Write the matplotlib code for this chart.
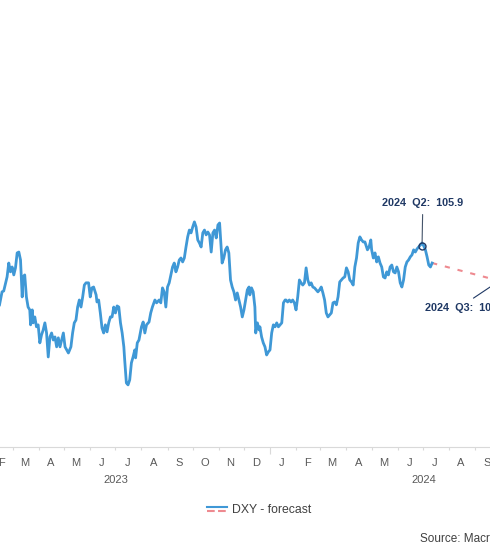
import matplotlib
matplotlib.use("Agg")
import matplotlib.pyplot as plt
import matplotlib.dates as mdates
from matplotlib.legend_handler import HandlerBase
from matplotlib.lines import Line2D
import pandas as pd

plt.rcParams['font.family'] = ['Liberation Sans', 'DejaVu Sans']

# ---------------- data ----------------
dxy_dates = [
    '2023-02-13', '2023-02-16', '2023-02-18', '2023-02-22', '2023-02-24', '2023-02-26', '2023-02-28',
    '2023-03-02', '2023-03-04', '2023-03-06', '2023-03-08', '2023-03-10', '2023-03-12', '2023-03-13',
    '2023-03-15', '2023-03-17', '2023-03-19', '2023-03-21', '2023-03-22', '2023-03-24', '2023-03-25',
    '2023-03-27', '2023-03-29', '2023-03-31', '2023-04-02', '2023-04-04', '2023-04-06', '2023-04-08',
    '2023-04-10', '2023-04-12', '2023-04-14', '2023-04-16', '2023-04-18', '2023-04-20', '2023-04-22',
    '2023-04-24', '2023-04-26', '2023-04-28', '2023-04-30', '2023-05-02', '2023-05-04', '2023-05-06',
    '2023-05-09', '2023-05-11', '2023-05-13', '2023-05-15', '2023-05-17', '2023-05-19', '2023-05-21',
    '2023-05-23', '2023-05-25', '2023-05-27', '2023-05-30', '2023-06-01', '2023-06-03', '2023-06-05',
    '2023-06-08', '2023-06-09', '2023-06-11', '2023-06-13', '2023-06-15', '2023-06-17', '2023-06-19',
    '2023-06-21', '2023-06-23', '2023-06-25', '2023-06-27', '2023-06-29', '2023-07-01', '2023-07-03',
    '2023-07-05', '2023-07-07', '2023-07-09', '2023-07-11', '2023-07-12', '2023-07-14', '2023-07-16',
    '2023-07-18', '2023-07-20', '2023-07-22', '2023-07-24', '2023-07-25', '2023-07-27', '2023-07-29',
    '2023-08-01', '2023-08-03', '2023-08-05', '2023-08-07', '2023-08-10', '2023-08-12', '2023-08-14',
    '2023-08-17', '2023-08-19', '2023-08-22', '2023-08-24', '2023-08-26', '2023-08-28', '2023-08-30',
    '2023-09-01', '2023-09-03', '2023-09-05', '2023-09-07', '2023-09-09', '2023-09-11', '2023-09-13',
    '2023-09-15', '2023-09-17', '2023-09-19', '2023-09-21', '2023-09-23', '2023-09-25', '2023-09-27',
    '2023-09-29', '2023-10-01', '2023-10-03', '2023-10-05', '2023-10-07', '2023-10-09', '2023-10-11',
    '2023-10-13', '2023-10-15', '2023-10-17', '2023-10-19', '2023-10-21', '2023-10-23', '2023-10-25',
    '2023-10-27', '2023-10-29', '2023-10-31', '2023-11-02', '2023-11-03', '2023-11-05', '2023-11-07',
    '2023-11-09', '2023-11-11', '2023-11-13', '2023-11-15', '2023-11-17', '2023-11-19', '2023-11-21',
    '2023-11-23', '2023-11-25', '2023-11-27', '2023-11-29', '2023-12-01', '2023-12-03', '2023-12-05',
    '2023-12-07', '2023-12-08', '2023-12-10', '2023-12-12', '2023-12-14', '2023-12-15', '2023-12-17',
    '2023-12-19', '2023-12-20', '2023-12-22', '2023-12-24', '2023-12-26', '2023-12-28', '2023-12-30',
    '2024-01-01', '2024-01-03', '2024-01-05', '2024-01-07', '2024-01-09', '2024-01-11', '2024-01-13',
    '2024-01-15', '2024-01-17', '2024-01-19', '2024-01-20', '2024-01-22', '2024-01-24', '2024-01-26',
    '2024-01-28', '2024-01-30', '2024-02-01', '2024-02-03', '2024-02-05', '2024-02-07', '2024-02-09',
    '2024-02-11', '2024-02-13', '2024-02-15', '2024-02-17', '2024-02-19', '2024-02-21', '2024-02-23',
    '2024-02-25', '2024-02-27', '2024-02-29', '2024-03-02', '2024-03-04', '2024-03-06', '2024-03-08',
    '2024-03-10', '2024-03-12', '2024-03-14', '2024-03-16', '2024-03-18', '2024-03-20', '2024-03-22',
    '2024-03-24', '2024-03-26', '2024-03-28', '2024-03-30', '2024-04-01', '2024-04-03', '2024-04-05',
    '2024-04-07', '2024-04-09', '2024-04-11', '2024-04-13', '2024-04-15', '2024-04-17', '2024-04-19',
    '2024-04-21', '2024-04-23', '2024-04-25', '2024-04-26', '2024-04-28', '2024-04-30', '2024-05-01',
    '2024-05-03', '2024-05-05', '2024-05-07', '2024-05-09', '2024-05-11', '2024-05-13', '2024-05-15',
    '2024-05-17', '2024-05-19', '2024-05-21', '2024-05-23', '2024-05-25', '2024-05-27', '2024-05-29',
    '2024-05-31', '2024-06-02', '2024-06-04', '2024-06-06', '2024-06-08', '2024-06-10', '2024-06-12',
    '2024-06-14', '2024-06-16', '2024-06-18', '2024-06-20', '2024-06-22', '2024-06-24', '2024-06-26',
    '2024-06-28', '2024-06-30', '2024-07-02', '2024-07-04', '2024-07-06', '2024-07-08', '2024-07-10',
    '2024-07-12',
]
dxy_values = [
    103.21, 103.80, 103.84, 104.48, 105.11, 104.71, 104.93,
    104.57, 104.89, 105.57, 105.61, 105.25, 103.57, 104.48,
    104.57, 103.57, 103.11, 102.98, 102.30, 102.98, 102.39,
    102.66, 102.21, 102.30, 101.48, 101.84, 102.07, 102.39,
    101.93, 100.84, 101.75, 101.93, 101.61, 101.75, 101.30,
    101.71, 101.30, 101.61, 101.93, 101.30, 101.16, 101.02,
    101.30, 101.93, 102.39, 102.52, 103.11, 103.43, 103.11,
    103.57, 104.11, 104.21, 104.21, 103.57, 103.98, 104.02,
    103.66, 103.34, 103.43, 102.84, 102.16, 101.93, 102.30,
    101.98, 102.39, 102.66, 102.66, 103.11, 102.84, 103.16,
    103.11, 102.39, 101.93, 101.30, 100.71, 99.66, 99.57,
    99.80, 100.57, 100.84, 101.16, 100.80, 101.48, 101.61,
    102.21, 102.43, 101.93, 102.30, 102.43, 102.84, 103.11,
    103.43, 103.30, 103.43, 103.30, 103.98, 103.80, 103.11,
    104.02, 104.21, 104.57, 104.93, 105.11, 104.71, 104.93,
    105.25, 105.34, 105.16, 105.34, 105.84, 106.30, 106.61,
    106.48, 106.75, 106.98, 106.75, 106.16, 106.02, 105.84,
    106.48, 106.61, 106.39, 106.52, 106.39, 105.61, 106.48,
    106.61, 106.25, 106.84, 106.93, 106.30, 105.11, 105.34,
    105.71, 105.84, 105.57, 104.34, 104.02, 103.80, 103.43,
    103.75, 103.43, 103.11, 102.66, 102.98, 103.43, 103.89,
    104.02, 103.66, 103.98, 103.80, 103.11, 101.93, 102.39,
    102.07, 102.21, 101.75, 101.48, 101.30, 100.93, 101.07,
    101.16, 101.93, 102.30, 102.21, 102.39, 102.21, 102.30,
    102.39, 103.30, 103.43, 103.43, 103.34, 103.43, 103.34,
    103.43, 103.30, 102.98, 103.57, 104.34, 104.21, 104.11,
    104.21, 104.89, 104.34, 104.11, 104.21, 104.02, 103.98,
    103.89, 103.80, 103.89, 104.02, 103.75, 103.43, 102.84,
    102.66, 102.75, 102.84, 103.30, 103.34, 103.21, 103.57,
    104.25, 104.34, 104.43, 104.48, 104.89, 104.71, 104.34,
    104.25, 104.11, 104.93, 105.34, 106.02, 106.30, 106.16,
    106.07, 106.07, 105.84, 105.71, 105.84, 106.16, 105.71,
    105.34, 105.57, 105.16, 105.39, 105.11, 104.93, 104.48,
    104.43, 104.71, 104.57, 104.93, 105.02, 104.71, 104.66,
    104.93, 104.71, 104.21, 104.02, 104.34, 104.93, 105.16,
    105.25, 105.39, 105.48, 105.71, 105.61, 105.75, 105.84,
    105.93, 106.02, 105.89, 105.71, 105.39, 105.02, 104.93,
    105.11,
]

q2_label = '2024 Q2'
q2_date = '2024-06-30'
q2_value = 105.9

forecast_labels = ['2024 Q3']
forecast_dates = ['2024-09-30']
forecast_values = [104.3]

month_letters = ['F', 'M', 'A', 'M', 'J', 'J', 'A', 'S', 'O', 'N', 'D',
                 'J', 'F', 'M', 'A', 'M', 'J', 'J', 'A', 'S']
month_starts = pd.date_range('2023-02-01', periods=len(month_letters), freq='MS')
year_labels = ['2023', '2024']

legend_label = 'DXY - forecast'
source_text = 'Source: Macrobond, ING forecasts'

# ---------------- style ----------------
BLUE = '#3F98D6'
RED = '#EE8A90'
NAVY = '#1F3864'
GREY_TXT = '#595959'
AXIS_GREY = '#D9D9D9'

W, H = 490, 550
fig = plt.figure(figsize=(W / 100, H / 100), dpi=100)


def fx(px):
    return px / W


def fy(py):
    return 1 - py / H


# axes extends beyond the visible crop
ax_left_px, ax_right_px = -36.6, 576.6
ax_top_px, ax_bottom_px = 23.5, 446.7
ax = fig.add_axes([fx(ax_left_px), fy(ax_bottom_px),
                   (ax_right_px - ax_left_px) / W, (ax_bottom_px - ax_top_px) / H])
ax.set_xlim(pd.Timestamp('2023-01-01'), pd.Timestamp('2024-12-31'))
ax.set_ylim(96.76, 116.0)

for s in ['top', 'left', 'right']:
    ax.spines[s].set_visible(False)
ax.spines['bottom'].set_color(AXIS_GREY)
ax.spines['bottom'].set_linewidth(0.8)
ax.yaxis.set_visible(False)
ax.xaxis.set_major_locator(mdates.YearLocator())
ax.xaxis.set_minor_locator(mdates.MonthLocator())
ax.tick_params(axis='x', which='major', length=5, width=0.8, color=AXIS_GREY,
               labelbottom=False)
ax.tick_params(axis='x', which='minor', length=2, width=0.8, color=AXIS_GREY,
               labelbottom=False)

dates = pd.to_datetime(dxy_dates)
line_actual, = ax.plot(dates, dxy_values, color=BLUE, lw=2.0,
                       solid_joinstyle='round', zorder=3)

fc_x = [dates[-1]] + list(pd.to_datetime(forecast_dates))
fc_y = [dxy_values[-1]] + list(forecast_values)
line_fc, = ax.plot(fc_x, fc_y, color=RED, lw=1.5, ls=(0, (2.5, 3.8)), zorder=2)

# markers
ax.plot(pd.to_datetime([q2_date] + forecast_dates), [q2_value] + forecast_values,
        'o', ms=5, mfc='none', mec=NAVY, mew=1.0, zorder=4)

# annotations
ann_kw = dict(fontsize=7.8, fontweight='bold', color=NAVY, ha='center', va='center',
              textcoords='offset points', annotation_clip=False)
ax.annotate(f'{q2_label.replace(" ", "  ")}:  {q2_value:.1f}',
            xy=(pd.Timestamp(q2_date), q2_value), xytext=(0.5, 30.5),
            arrowprops=dict(arrowstyle='-', color='#44546A', lw=0.8,
                            shrinkA=2.5, shrinkB=2.2, relpos=(0.5, 0)),
            **ann_kw)
for lab, d, v in zip(forecast_labels, forecast_dates, forecast_values):
    ax.annotate(f'{lab.replace(" ", "  ")}:  {v:.1f}',
                xy=(pd.Timestamp(d), v), xytext=(-24.1, -19.7),
                arrowprops=dict(arrowstyle='-', color=NAVY, lw=0.8,
                                shrinkA=3, shrinkB=2.2, relpos=(0.5, 1)),
                **ann_kw)

# month and year labels
for m, letter in zip(month_starts, month_letters):
    mid = m + pd.Timedelta(days=14)
    ax.annotate(letter, xy=(mdates.date2num(mid), 0), xycoords=('data', 'axes fraction'),
                xytext=(0, -12), textcoords='offset points', ha='center', va='center',
                fontsize=8, color=GREY_TXT)
for yl in year_labels:
    mid = pd.Timestamp(f'{yl}-07-02')
    ax.annotate(yl, xy=(mdates.date2num(mid), 0), xycoords=('data', 'axes fraction'),
                xytext=(0, -24), textcoords='offset points', ha='center', va='center',
                fontsize=8, color=GREY_TXT)


# legend with stacked handle
class StackedHandler(HandlerBase):
    def create_artists(self, legend, orig_handle, xdescent, ydescent, width, height,
                       fontsize, trans):
        arts = []
        offs = [1.5, -1.5]
        for h, o in zip(orig_handle, offs):
            yy = height / 2 - ydescent + o
            ln = Line2D([-xdescent, width - xdescent], [yy, yy], color=h.get_color(),
                        lw=1.5, linestyle=h.get_linestyle())
            ln.set_transform(trans)
            arts.append(ln)
        return arts


fig.legend(handles=[(line_actual, line_fc)], labels=[legend_label],
           handler_map={tuple: StackedHandler()},
           loc='center left', bbox_to_anchor=(fx(207), fy(510)), frameon=False,
           borderpad=0, borderaxespad=0, handlelength=1.64, handletextpad=0.4,
           prop={'size': 8.8}, labelcolor='#404040')

fig.text(fx(420), fy(538.3), source_text, ha='left', va='center', fontsize=8.5,
         color='#404040')

fig.savefig('out.png', dpi=100)
